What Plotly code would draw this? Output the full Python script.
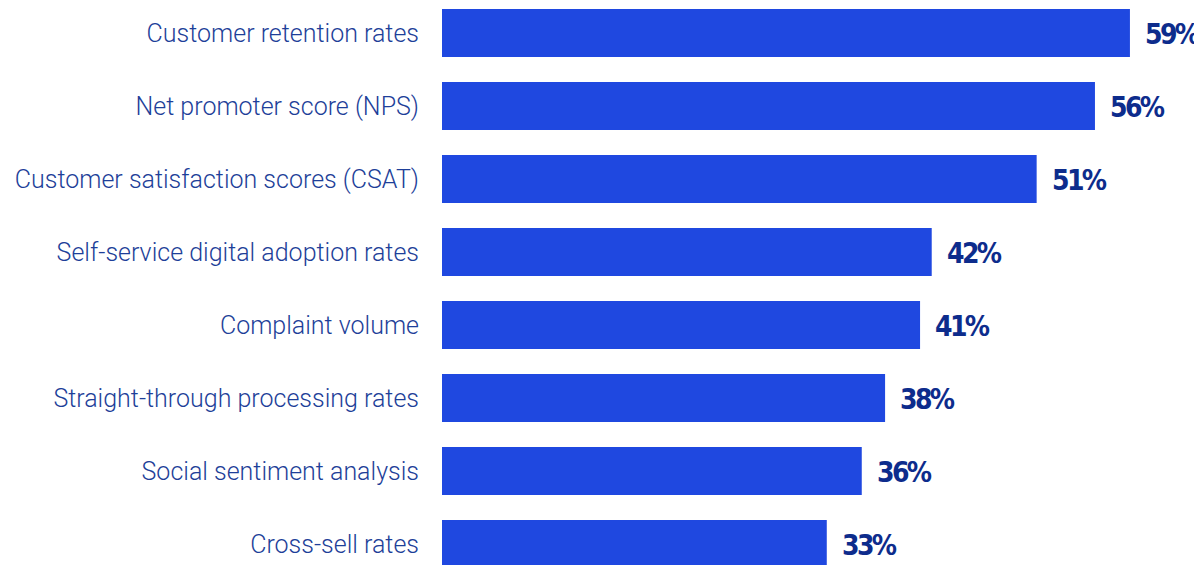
import plotly.graph_objects as go

categories = [
    "Customer retention rates",
    "Net promoter score (NPS)",
    "Customer satisfaction scores (CSAT)",
    "Self-service digital adoption rates",
    "Complaint volume",
    "Straight-through processing rates",
    "Social sentiment analysis",
    "Cross-sell rates",
]
values = [59, 56, 51, 42, 41, 38, 36, 33]
value_labels = [f"{v}%" for v in values]

BAR = "#1f48e0"
NAVY = "#1e3f99"

fig = go.Figure(go.Bar(
    x=values, y=categories, orientation="h",
    marker=dict(color=BAR, line=dict(width=0)),
    hoverinfo="skip",
))

for c, v, t in zip(categories, values, value_labels):
    fig.add_annotation(
        x=v, y=c,
        text=f'<span style="letter-spacing:-2.6px">{t}</span>',
        showarrow=False, xanchor="left", yanchor="middle",
        xshift=13, yshift=-2,
        font=dict(family="DejaVu Sans Condensed, sans-serif",
                  size=28, color="#0d2c8c", weight="bold"),
    )

fig.update_layout(
    width=1194, height=557,
    margin=dict(l=434, r=0, t=0, b=0),
    paper_bgcolor="white", plot_bgcolor="white",
    bargap=0.343,
    showlegend=False,
    xaxis=dict(range=[0, 760 / 11.66], visible=False, showgrid=False, zeroline=False),
    yaxis=dict(
        range=[7.288, -0.342], showgrid=False, zeroline=False, showline=False,
        ticks="", ticklabelstandoff=22, automargin=False,
        tickfont=dict(family="Roboto, Liberation Sans, sans-serif", size=25, color=NAVY, weight=300),
    ),
)

fig.write_html("out.html")
